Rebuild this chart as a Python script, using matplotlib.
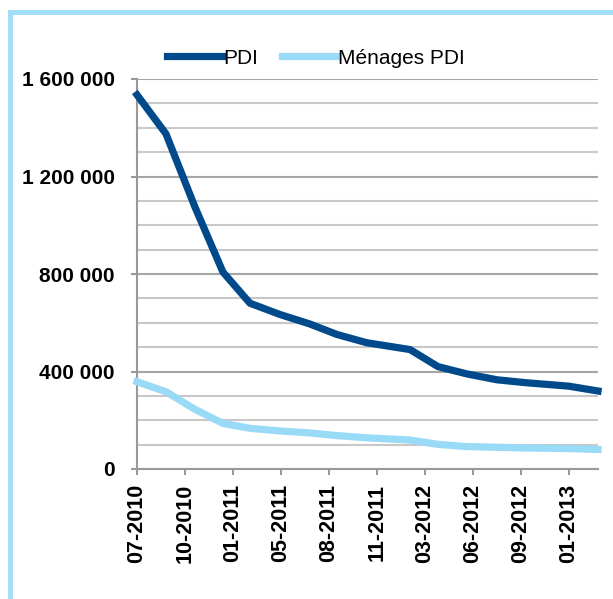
"""
Haiti: PDI et ménages PDI, 07-2010 à 03-2013.
"""

import matplotlib
matplotlib.use('Agg')
import matplotlib.pyplot as plt
import matplotlib.dates as mdates
from matplotlib.patches import Rectangle
from matplotlib import font_manager
import numpy as np

# Data
# ----------------------------------------------------------------------------

dates = ['2010-07-10', '2010-09-09', '2010-11-09', '2011-01-07', '2011-03-05',
         '2011-05-07', '2011-07-09', '2011-09-04', '2011-11-06', '2012-02-05',
         '2012-04-04', '2012-06-04', '2012-08-06', '2012-10-06', '2013-01-04',
         '2013-03-07']

pdi = [1535000, 1375000, 1075000, 808000, 680000, 634000, 595000, 552000,
       518000, 490000, 420000, 390000, 366000, 354000, 340000, 320000]

menages = [358000, 317000, 245000, 187000, 167000, 156000, 148000, 137000,
           128000, 119000, 101000, 92000, 89000, 86000, 84000, 80000]

tick_labels = ['07-2010', '10-2010', '01-2011', '05-2011', '08-2011',
               '11-2011', '03-2012', '06-2012', '09-2012', '01-2013']

series_names = ['PDI', 'Ménages PDI']

# Styling
# ----------------------------------------------------------------------------

dark_blue = '#004A8C'
light_blue = '#99DBF6'
border_blue = '#A3DEF8'
grid_major = '#A6A6A6'
grid_minor = '#C8C8C8'

installed = {f.name for f in font_manager.fontManager.ttflist}
narrow = 'Liberation Sans Narrow' if 'Liberation Sans Narrow' in installed else None

plt.rcParams['font.family'] = ['Liberation Sans', 'DejaVu Sans']

x = mdates.datestr2num(dates)
x0 = x[0]
tick_pos = x0 + np.arange(len(tick_labels)) * 101

fig = plt.figure(figsize=(6.13, 5.99), dpi=100)
ax = fig.add_axes([137 / 613, 1 - 469 / 599, 461 / 613, 390 / 599])

ax.plot(x, pdi, color=dark_blue, lw=5.2, label=series_names[0],
        solid_joinstyle='round', clip_on=False, zorder=4)
ax.plot(x, menages, color=light_blue, lw=5.2, label=series_names[1],
        solid_joinstyle='round', clip_on=False, zorder=3)

ax.set_xlim(x[0], x[-1])
ax.set_ylim(0, 1600000)

ax.set_yticks(np.arange(0, 1600001, 400000))
ax.set_yticks(np.arange(0, 1600001, 100000), minor=True)
ax.yaxis.set_major_formatter(
    plt.FuncFormatter(lambda v, p: f'{v:,.0f}'.replace(',', ' ')))
ax.grid(axis='y', which='minor', color=grid_minor, lw=1.5, zorder=0)
ax.grid(axis='y', which='major', color=grid_major, lw=1.5, zorder=0)
ax.set_axisbelow(True)

ax.set_xticks(tick_pos, labels=tick_labels, rotation=90)

for side in ('top', 'right'):
    ax.spines[side].set_visible(False)
for side in ('left', 'bottom'):
    ax.spines[side].set_color('#999999')
    ax.spines[side].set_linewidth(1.5)

ax.tick_params(axis='y', which='major', length=4, width=1.5, color='#999999',
               pad=12, labelsize=15)
ax.tick_params(axis='y', which='minor', length=0)
ax.tick_params(axis='x', which='major', length=4.5, width=1.5, color='#999999',
               pad=6, labelsize=15.5)
for lab in ax.get_xticklabels() + ax.get_yticklabels():
    lab.set_fontweight('bold')

leg_font = {'size': 17, 'family': narrow} if narrow else {'size': 15}
ax.legend(loc='center', bbox_to_anchor=(316 / 613, 1 - 58 / 599),
          bbox_transform=fig.transFigure, ncol=2, frameon=False,
          prop=leg_font, handlelength=2.6, handletextpad=0.1,
          columnspacing=1.1, borderpad=0)

# light blue frame around the chart
fig.add_artist(Rectangle((10 / 613, -0.2), 1.2, 1.2 - 12.5 / 599,
                         transform=fig.transFigure, fill=False,
                         edgecolor=border_blue, lw=3.6, clip_on=False))

fig.savefig('out.png', dpi=100, facecolor='white')
